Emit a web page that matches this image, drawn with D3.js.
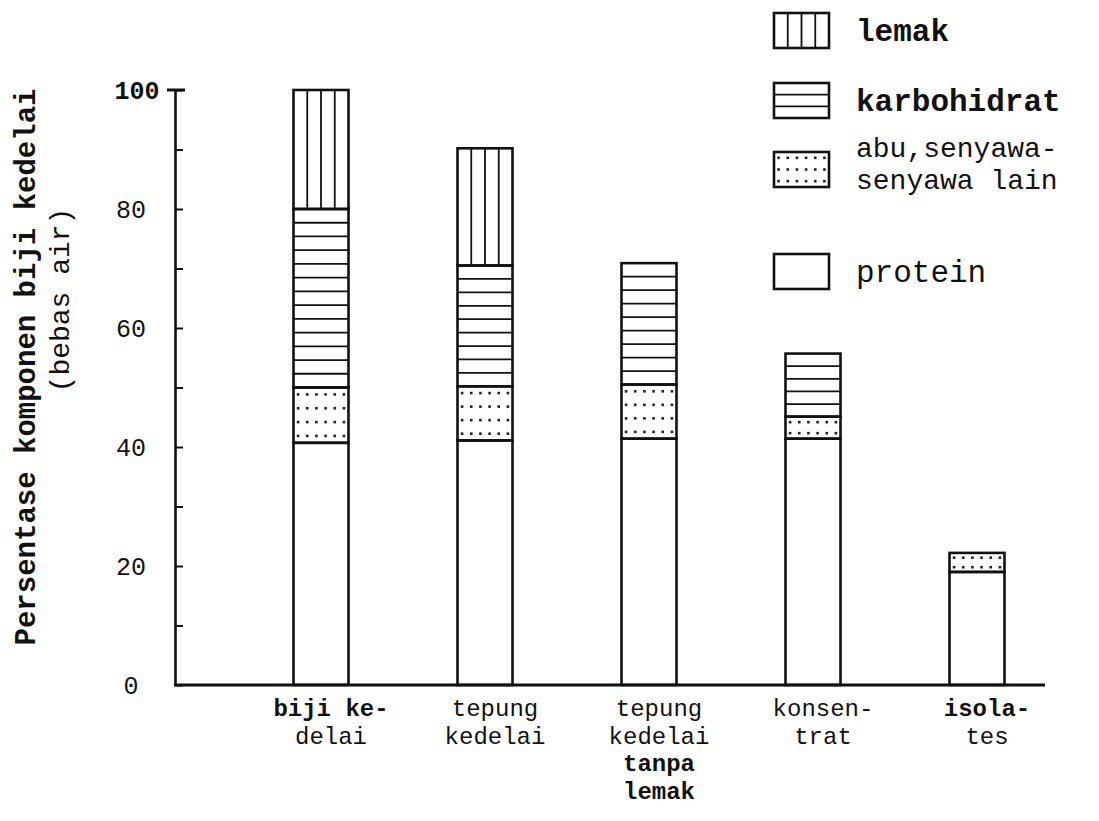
<!DOCTYPE html>
<html>
<head>
<meta charset="utf-8">
<script src="https://cdn.jsdelivr.net/npm/d3@7"></script>
<style>
  html, body { margin: 0; padding: 0; background: #fff; }
  svg { display: block; }
  text { font-family: "Liberation Mono", "DejaVu Sans Mono", monospace; fill: #111; }
</style>
</head>
<body>
<script>
// ---- data ----
const categories = ["biji kedelai", "tepung kedelai", "tepung kedelai tanpa lemak", "konsentrat", "isolates"];
const categoryLabelLines = [
  ["biji ke-", "delai"],
  ["tepung", "kedelai"],
  ["tepung", "kedelai", "tanpa", "lemak"],
  ["konsen-", "trat"],
  ["isola-", "tes"]
];
const boldLines = [
  [true, false],
  [false, false],
  [false, false, true, true],
  [false, false],
  [true, false]
];
const protein     = [40.7, 41.1, 41.4, 41.4, 19.0];
const abu         = [9.3, 9.1, 9.1, 3.7, 3.2];
const karbohidrat = [30.0, 20.3, 20.4, 10.6, 0];
const lemak       = [20.0, 19.7, 0, 0, 0];
const seriesKeys  = ["protein", "abu", "karbohidrat", "lemak"];
const legendKeys  = ["lemak", "karbohidrat", "abu", "protein"];
const legendLabels = {
  lemak: ["lemak"],
  karbohidrat: ["karbohidrat"],
  abu: ["abu,senyawa-", "senyawa lain"],
  protein: ["protein"]
};
const yTicks = [0, 20, 40, 60, 80, 100];
const yTitle = ["Persentase komponen biji kedelai", "(bebas air)"];

// ---- build table ----
const table = categories.map((c, i) => ({
  cat: c, protein: protein[i], abu: abu[i], karbohidrat: karbohidrat[i], lemak: lemak[i]
}));
const stacked = d3.stack().keys(seriesKeys)(table);

const W = 1099, H = 821;
const svg = d3.select("body").append("svg").attr("width", W).attr("height", H);

const y = d3.scaleLinear().domain([0, 100]).range([685, 90]);
const x = d3.scalePoint().domain(categories).range([321, 977]);
const barW = 55;
const axisX = 175;

// ---- fill drawing ----
function drawFill(g, key, x0, y0, w, h) {
  if (h <= 0.5) return;
  if (key === "lemak") {
    [1, 2, 3].forEach(k => {
      g.append("line").attr("x1", x0 + k * w / 4).attr("x2", x0 + k * w / 4)
        .attr("y1", y0).attr("y2", y0 + h).attr("stroke", "#111").attr("stroke-width", 1.8);
    });
  } else if (key === "karbohidrat") {
    const n = Math.max(Math.round(h / 13.6), 1);
    d3.range(1, n).forEach(k => {
      g.append("line").attr("x1", x0).attr("x2", x0 + w)
        .attr("y1", y0 + k * h / n).attr("y2", y0 + k * h / n)
        .attr("stroke", "#111").attr("stroke-width", 1.8);
    });
  } else if (key === "abu") {
    const rows = Math.max(Math.ceil(h / 14), 1);
    const cols = Math.round(w / 9.5);
    for (let r = 0; r < rows; r++) {
      for (let c = 0; c < cols; c++) {
        g.append("rect")
          .attr("x", x0 + (c + 0.5) * w / cols - 1.3)
          .attr("y", y0 + (r + 0.5) * h / rows - 1.3)
          .attr("width", 2.6).attr("height", 2.6).attr("fill", "#222");
      }
    }
  }
  g.append("rect").attr("x", x0).attr("y", y0).attr("width", w).attr("height", h)
    .attr("fill", "none").attr("stroke", "#111").attr("stroke-width", 2.6);
}

// ---- bars ----
const barsG = svg.append("g");
stacked.forEach(s => {
  s.forEach(d => {
    const top = y(d[1]), bot = y(d[0]);
    drawFill(barsG.append("g"), s.key, x(d.data.cat) - barW / 2, top, barW, bot - top);
  });
});

// ---- y axis ----
const yAxis = d3.axisLeft(y).tickValues(d3.range(0, 101, 10)).tickSizeInner(-8).tickSizeOuter(0).tickFormat("");
const ag = svg.append("g").attr("transform", `translate(${axisX},0)`).call(yAxis);
ag.select(".domain").attr("stroke", "#111").attr("stroke-width", 2.6);
ag.selectAll(".tick line").attr("stroke", "#111").attr("stroke-width", 2);
svg.append("line").attr("x1", axisX - 8).attr("x2", axisX + 10).attr("y1", y(100)).attr("y2", y(100))
  .attr("stroke", "#111").attr("stroke-width", 3);

// tick labels
svg.append("g").selectAll("text").data(yTicks).join("text")
  .attr("x", d => d === 100 ? 137 : 131)
  .attr("y", d => y(d) + 9)
  .attr("text-anchor", "middle")
  .attr("font-size", 25)
  .attr("font-weight", d => d === 100 ? "bold" : "normal")
  .text(d => d);

// baseline
svg.append("line").attr("x1", axisX - 1).attr("x2", 1045).attr("y1", y(0)).attr("y2", y(0))
  .attr("stroke", "#111").attr("stroke-width", 3);

// y title
svg.append("text").attr("transform", "translate(35,367) rotate(-90)")
  .attr("text-anchor", "middle").attr("font-size", 29).attr("font-weight", "bold").text(yTitle[0]);
svg.append("text").attr("transform", "translate(69,300) rotate(-90)")
  .attr("text-anchor", "middle").attr("font-size", 28).text(yTitle[1]);

// x labels
const xl = svg.append("g");
categories.forEach((c, i) => {
  categoryLabelLines[i].forEach((ln, j) => {
    xl.append("text")
      .attr("x", x(c) + 10)
      .attr("y", 716 + j * 27.5)
      .attr("text-anchor", "middle")
      .attr("font-size", 24)
      .attr("font-weight", boldLines[i][j] ? "bold" : "normal")
      .text(ln);
  });
});

// ---- legend ----
const legendY = { lemak: 13, karbohidrat: 83, abu: 152, protein: 254 };
const lg = svg.append("g");
legendKeys.forEach(k => {
  drawFill(lg.append("g"), k, 774, legendY[k], 55, 35);
  const lines = legendLabels[k];
  lines.forEach((ln, j) => {
    lg.append("text")
      .attr("x", 856)
      .attr("y", legendY[k] + (lines.length === 1 ? 28 : 5 + j * 32))
      .attr("font-size", lines.length === 1 ? 31 : 28)
      .attr("font-weight", (k === "lemak" || k === "karbohidrat") ? "bold" : "normal")
      .text(ln);
  });
});
</script>
</body>
</html>
